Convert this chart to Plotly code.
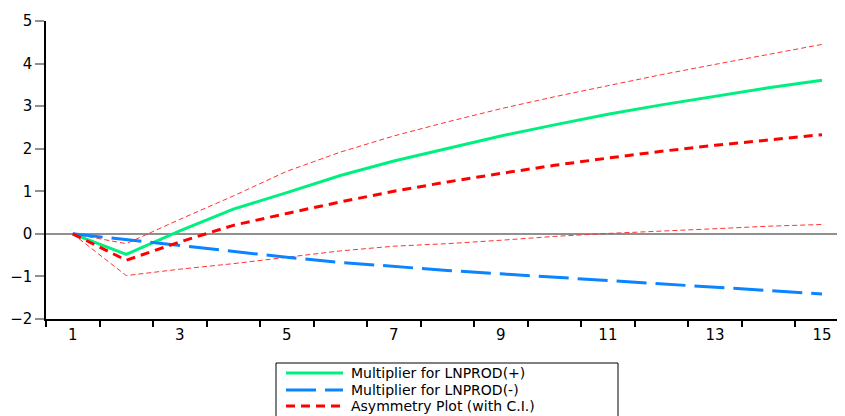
import plotly.graph_objects as go

periods = list(range(1, 16))
mult_pos = [0, -0.48, 0.07, 0.58, 0.97, 1.37, 1.71, 2.00, 2.30, 2.56, 2.81, 3.03, 3.23, 3.43, 3.61]
mult_neg = [0, -0.14, -0.28, -0.42, -0.55, -0.67, -0.77, -0.86, -0.94, -1.02, -1.10, -1.18, -1.26, -1.34, -1.41]
asym = [0, -0.62, -0.19, 0.20, 0.48, 0.75, 1.00, 1.22, 1.42, 1.61, 1.78, 1.94, 2.08, 2.21, 2.33]
ci_upper = [0, -0.23, 0.34, 0.89, 1.47, 1.92, 2.30, 2.63, 2.94, 3.22, 3.48, 3.74, 3.98, 4.22, 4.45]
ci_lower = [0, -0.98, -0.83, -0.70, -0.55, -0.40, -0.29, -0.23, -0.15, -0.06, 0.01, 0.06, 0.12, 0.18, 0.22]

series_names = ["Multiplier for LNPROD(+)", "Multiplier for LNPROD(-)", "Asymmetry Plot (with C.I.)"]
x_ticklabels = [1, 3, 5, 7, 9, 11, 13, 15]
y_ticks = [-2, -1, 0, 1, 2, 3, 4, 5]

FONT = "DejaVu Sans, Liberation Sans, sans-serif"

W, H = 845, 416
OFF = 8  # page body offset
ML, MT, MR, MB = 46 - OFF, 21 - OFF, OFF, H - (319 - OFF)
PW, PH = W - ML - MR, H - MT - MB

def px(xw):
    return (xw - OFF - ML) / PW

def py(yw):
    return (H - MB - (yw - OFF)) / PH

styles = [
    dict(color="#00F080", width=3),
    dict(color="#0A84FF", width=3, dash="30px,9px"),
    dict(color="#FF0000", width=3, dash="9px,6px"),
]
ci_style = dict(color="#FF3333", width=1, dash="5px,3px")

fig = go.Figure()
fig.add_trace(go.Scatter(x=periods, y=ci_upper, mode="lines", name="Upper C.I.",
                         showlegend=False, line=ci_style))
fig.add_trace(go.Scatter(x=periods, y=ci_lower, mode="lines", name="Lower C.I.",
                         showlegend=False, line=ci_style))
for name, vals, st in zip(series_names, [mult_pos, mult_neg, asym], styles):
    fig.add_trace(go.Scatter(x=periods, y=vals, mode="lines", name=name,
                             showlegend=False, line=st))

# legend box (bottom edge falls outside the picture, as in the reference)
shapes = [dict(type="rect", xref="paper", yref="paper",
               x0=px(276), x1=px(618), y0=py(363), y1=py(440),
               line=dict(color="black", width=1), fillcolor="white", layer="above")]
annotations = []
rows = [373, 390, 406]
for name, st, yw in zip(series_names, styles, rows):
    shapes.append(dict(type="line", xref="paper", yref="paper",
                       x0=px(286), x1=px(343), y0=py(yw), y1=py(yw),
                       line=st, layer="above"))
    annotations.append(dict(xref="paper", yref="paper", x=px(349), y=py(yw),
                            xanchor="left", yanchor="middle", showarrow=False,
                            text=name, font=dict(family=FONT, size=14, color="black")))

fig.update_layout(
    width=W, height=H,
    margin=dict(l=ML, r=MR, t=MT, b=MB, autoexpand=False),
    paper_bgcolor="white", plot_bgcolor="white",
    font=dict(family=FONT, size=15, color="black"),
    showlegend=False,
    shapes=shapes, annotations=annotations,
)
fig.update_xaxes(
    range=[0.5, 15.43], showgrid=False, zeroline=False, automargin=False,
    showline=True, linecolor="black", linewidth=1.5,
    tickmode="array", tickvals=x_ticklabels, ticktext=[str(v) for v in x_ticklabels],
    ticks="outside", ticklen=1, tickcolor="rgba(0,0,0,0)",
    minor=dict(tickmode="linear", tick0=0.5, dtick=1, ticks="outside", ticklen=6,
               tickcolor="black", tickwidth=1.5, showgrid=False),
    tickfont=dict(family=FONT, size=15, color="black"),
)
fig.update_yaxes(
    range=[-2, 5], showgrid=False, automargin=False,
    zeroline=True, zerolinecolor="#909090", zerolinewidth=1.5,
    showline=True, linecolor="black", linewidth=1.5,
    tickmode="array", tickvals=y_ticks,
    ticks="outside", ticklen=9, tickcolor="#909090", tickwidth=1.5,
    tickfont=dict(family=FONT, size=15, color="black"),
)

fig.write_html("out.html")
